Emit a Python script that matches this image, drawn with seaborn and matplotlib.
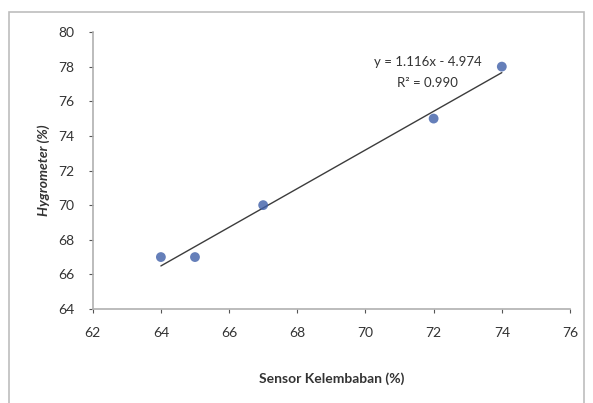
import numpy as np
import pandas as pd
import matplotlib
matplotlib.use("Agg")
import matplotlib.pyplot as plt
import seaborn as sns
from matplotlib.patches import Rectangle

sensor = [64, 65, 67, 72, 74]
hygrometer = [67, 67, 70, 75, 78]
x_ticks = [62, 64, 66, 68, 70, 72, 74, 76]
y_ticks = [64, 66, 68, 70, 72, 74, 76, 78, 80]
equation = "y = 1.116x - 4.974"
r2_text = "R² = 0.990"

df = pd.DataFrame({"sensor": sensor, "hygro": hygrometer})

sns.set_theme(style="white")
plt.rcParams['font.family'] = ['Lato', 'DejaVu Sans']

fig = plt.figure(figsize=(5.93, 4.03), dpi=100)
W, H = 593, 403
ax = fig.add_axes([92.7 / W, 1 - 309 / H, (570 - 92.7) / W, (309 - 32) / H])

# Outer frame
fig.patches.append(Rectangle((9 / W, -0.05), (584 - 9) / W, 1 - 12 / H + 0.05,
                             transform=fig.transFigure, fill=False,
                             edgecolor="#bdbdbd", linewidth=1.2))

sns.regplot(data=df, x="sensor", y="hygro", ax=ax, ci=None, truncate=True,
            scatter_kws=dict(s=50, color="#3f5fa8", edgecolor="none", zorder=3),
            line_kws=dict(color="#3c3c3c", linewidth=1.0, zorder=2))

ax.set_xlim(62, 76)
ax.set_ylim(64, 80)
ax.set_xticks(x_ticks)
ax.set_yticks(y_ticks)
ax.tick_params(axis="both", labelsize=10, colors="#555555", length=3,
               width=0.8, direction="out", bottom=True, left=True, pad=10)
for lab in ax.get_xticklabels() + ax.get_yticklabels():
    lab.set_color("#333333")
for s in ["top", "right"]:
    ax.spines[s].set_visible(False)
for s in ["left", "bottom"]:
    ax.spines[s].set_color("#b0b0b0")
    ax.spines[s].set_linewidth(1.2)

ax.set_xlabel("Sensor Kelembaban (%)", fontsize=10, fontweight="bold",
              color="#333333", labelpad=24)
ax.set_ylabel("Hygrometer (%)", fontsize=10, fontweight="bold",
              style="italic", color="#333333", labelpad=6)

ax.text(71.83, 78.25, equation, ha="center", va="center", fontsize=9.5,
        color="#333333")
ax.text(71.83, 77.05, r2_text, ha="center", va="center", fontsize=9.5,
        color="#333333")

fig.savefig("out.png", dpi=100)
